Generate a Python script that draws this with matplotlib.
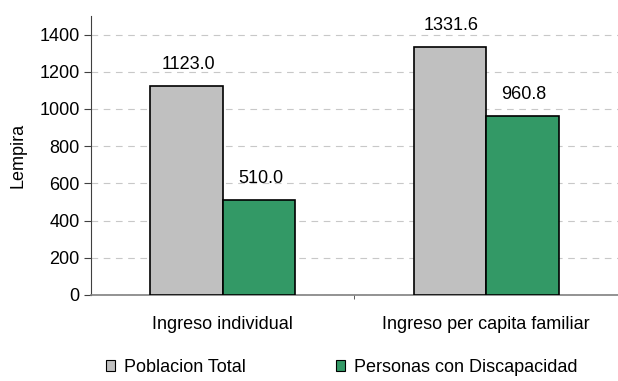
import numpy as np
import matplotlib.pyplot as plt
from matplotlib.patches import Patch

plt.rcParams['font.family'] = ['Liberation Sans', 'DejaVu Sans']

categories = ['Ingreso individual', 'Ingreso per capita familiar']
poblacion_total = [1123.0, 1331.6]
discapacidad = [510.0, 960.8]
series_names = ['Poblacion Total', 'Personas con Discapacidad']
colors = ['#c0c0c0', '#339966']

fs = 13
fig = plt.figure(figsize=(6.18, 3.81), dpi=100)
ax = fig.add_axes([0.147, 0.226, 0.853, 0.732])

x = np.arange(len(categories))
w = 0.275
b1 = ax.bar(x - w / 2, poblacion_total, w, color=colors[0], edgecolor='black', linewidth=1.2, zorder=3)
b2 = ax.bar(x + w / 2, discapacidad, w, color=colors[1], edgecolor='black', linewidth=1.2, zorder=3)

# value labels above each bar
for bars, vals in [(b1, poblacion_total), (b2, discapacidad)]:
    for bar, v in zip(bars, vals):
        ax.text(bar.get_x() + bar.get_width() / 2 + 0.006, v + 72, f'{v:.1f}',
                ha='center', va='bottom', fontsize=fs)

ax.set_xlim(-0.5, 1.5)
ax.set_ylim(0, 1500)
ax.set_yticks(range(0, 1401, 200))
ax.tick_params(axis='y', labelsize=fs, length=5, color='#404040', pad=3)
ax.set_xticks([0.5], minor=True)
ax.set_xticks(x)
ax.set_xticklabels(categories, fontsize=fs)
ax.tick_params(axis='x', which='major', length=0, pad=15)
ax.tick_params(axis='x', which='minor', length=3, color='#404040')
ax.set_ylabel('Lempira', fontsize=fs, labelpad=9)

ax.grid(axis='y', color='#c8c8c8', linestyle=(0, (6, 5)), linewidth=0.8, zorder=0)
for s in ['top', 'right']:
    ax.spines[s].set_visible(False)
ax.spines['left'].set_color('#404040')
ax.spines['bottom'].set_color('#808080')
ax.spines['bottom'].set_linewidth(1.2)

handles = [Patch(facecolor=c, edgecolor='black', linewidth=0.8) for c in colors]
fig.legend(handles, series_names, loc='center left', bbox_to_anchor=(0.157, 0.036), ncol=2,
           frameon=False, fontsize=fs, handlelength=0.5, handleheight=0.5,
           handletextpad=0.5, columnspacing=5.0, borderpad=0)

plt.savefig('out.png', dpi=100)
